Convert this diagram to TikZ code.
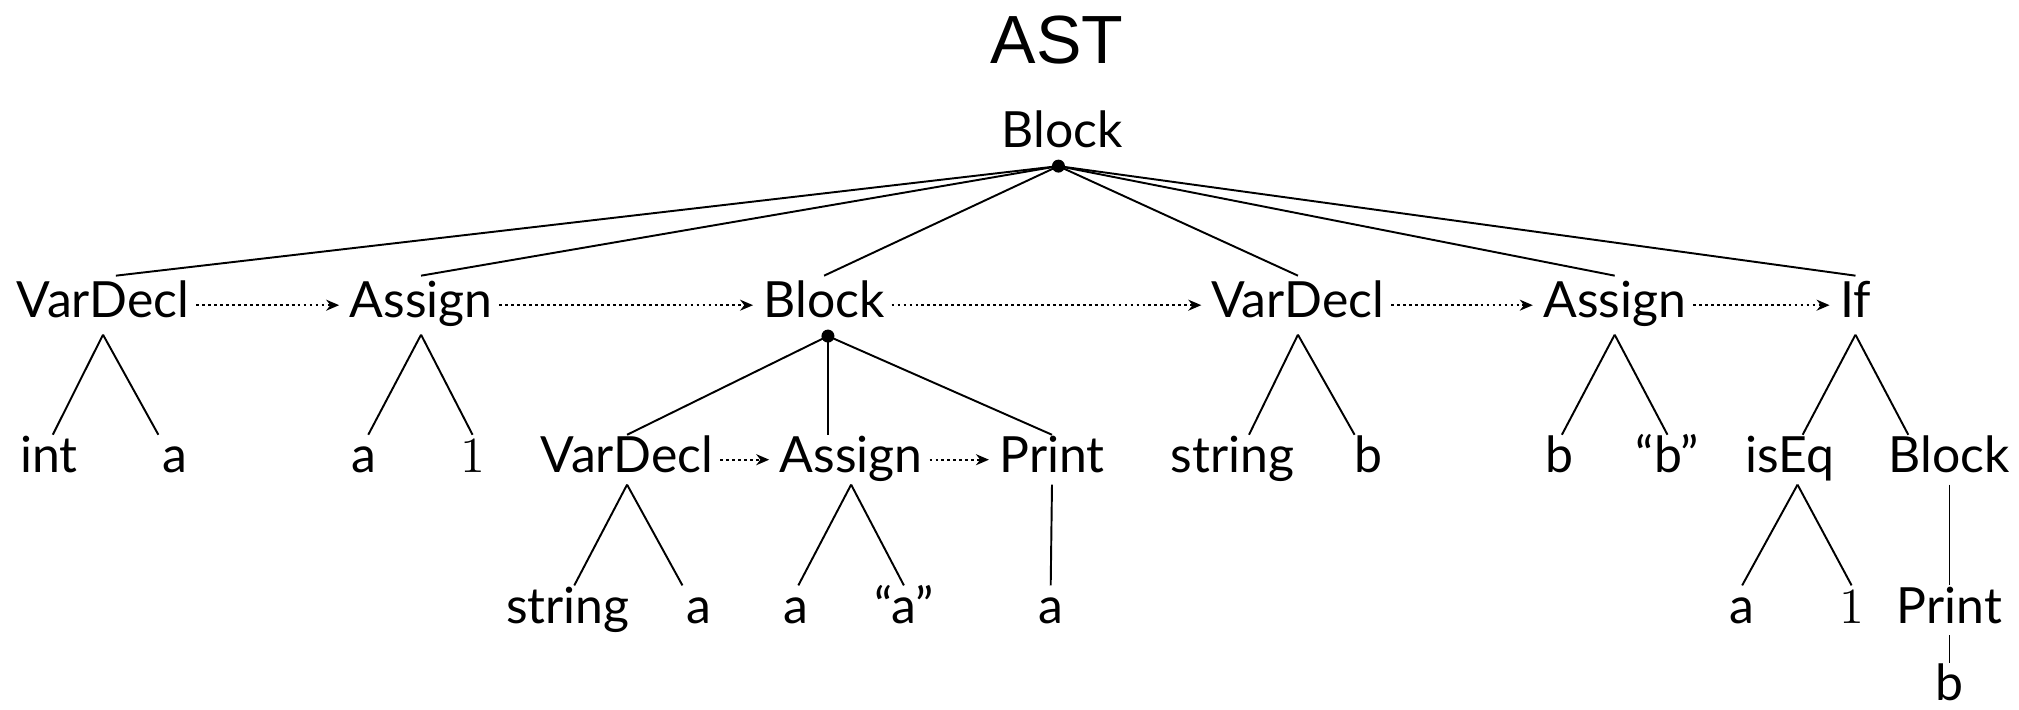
\documentclass[tikz,border=0pt]{standalone}
\usepackage{fontspec}
\setmainfont{Lato}
\newfontfamily\titlefont{Liberation Sans}
\usetikzlibrary{arrows.meta}

\begin{document}
\begin{tikzpicture}[
  x=0.012876cm, y=-0.012876cm,
  >={Stealth[length=1.3mm, width=1.1mm]},
  every node/.style={font=\fontsize{14.2}{16}\selectfont},
  ast/.style={inner sep=0pt, outer xsep=2pt, outer ysep=3.5pt, text height=0.72em, text depth=0pt},
  stmt/.style={ast, outer ysep=4.8pt},
  joint/.style={circle, fill=black, inner sep=0pt, minimum size=1.3mm},
  treeedge/.style={line width=0.55pt},
  nextedge/.style={->, line width=0.5pt, dash pattern=on 0.8pt off 0.9pt, shorten >=1pt},
]
\useasboundingbox (0,0) rectangle (1568,551);

% ---- title ----
\node[font=\titlefont\fontsize{19.4}{22}\selectfont] (title) at (821,31) {AST};

% ---- depth 0: root ----
\node[ast] (root) at (825,105) {Block};
\node[joint] (d0) at (822,129) {};

% ---- depth 1 ----
\node[stmt] (vd1)  at (80,237)   {VarDecl};
\node[stmt] (as1)  at (327,237)  {Assign};
\node[stmt] (blk1) at (640,237)  {Block};
\node[stmt] (vd2)  at (1008,237) {VarDecl};
\node[stmt] (as2)  at (1254,237) {Assign};
\node[stmt] (if1)  at (1441,237) {If};
\node[joint] (d1) at (643,261) {};

% ---- depth 2 ----
\node[ast] (l1)   at (38,357)   {int};
\node[ast] (l2)   at (136,357)  {a};
\node[ast] (l3)   at (283,357)  {a};
\node[ast] (l4)   at (367,357)  {$1$};
\node[ast] (vd3)  at (487,357)  {VarDecl};
\node[ast] (as3)  at (661,357)  {Assign};
\node[ast] (pr1)  at (817,357)  {Print};
\node[ast] (l5)   at (957,357)  {string};
\node[ast] (l6)   at (1063,357) {b};
\node[ast] (l7)   at (1211,357) {b};
\node[ast] (l8)   at (1295,357) {“b”};
\node[ast] (eq1)  at (1390,357) {isEq};
\node[ast] (blk2) at (1514,357) {Block};

% ---- depth 3 ----
\node[ast] (l9)  at (441,474)  {string};
\node[ast] (l10) at (543,474)  {a};
\node[ast] (l11) at (618,474)  {a};
\node[ast] (l12) at (702,474)  {“a”};
\node[ast] (l13) at (816,474)  {a};
\node[ast] (l14) at (1353,474) {a};
\node[ast] (l15) at (1438,474) {$1$};
\node[ast] (pr2) at (1514,474) {Print};

% ---- depth 4 ----
\node[ast] (l16) at (1514,534) {b};

% ---- tree edges ----
\draw[treeedge] (d0.center) -- ([shift={(10,0)}]vd1.north);
\foreach \c in {as1,blk1,vd2,as2,if1}
  \draw[treeedge] (d0.center) -- (\c.north);
\draw[treeedge] (vd1.south) -- ([shift={(3,0)}]l1.north);
\draw[treeedge] (vd1.south) -- ([shift={(-13,0)}]l2.north);
\draw[treeedge] (as1.south) -- ([shift={(3,0)}]l3.north);
\draw[treeedge] (as1.south) -- (l4.north);
\draw[treeedge] (d1.center) -- (vd3.north);
\draw[treeedge] (d1.center) -- (d1 |- as3.north);
\draw[treeedge] (d1.center) -- (pr1.north);
\draw[treeedge] (vd2.south) -- ([shift={(13,0)}]l5.north);
\draw[treeedge] (vd2.south) -- ([shift={(-11,0)}]l6.north);
\draw[treeedge] (as2.south) -- ([shift={(2,0)}]l7.north);
\draw[treeedge] (as2.south) -- (l8.north);
\draw[treeedge] (if1.south) -- ([shift={(10,0)}]eq1.north);
\draw[treeedge] (if1.south) -- ([shift={(-32,0)}]blk2.north);
\draw[treeedge] (vd3.south) -- ([shift={(5,0)}]l9.north);
\draw[treeedge] (vd3.south) -- ([shift={(-13,0)}]l10.north);
\draw[treeedge] (as3.south) -- ([shift={(2,0)}]l11.north);
\draw[treeedge] (as3.south) -- (l12.north);
\draw[treeedge] (pr1.south) -- (l13.north);
\draw[treeedge] ([shift={(6,0)}]eq1.south) -- (l14.north);
\draw[treeedge] ([shift={(6,0)}]eq1.south) -- (l15.north);
\draw[treeedge] (blk2.south) -- (pr2.north);
\draw[treeedge] (pr2.south) -- (l16.north);

% ---- sibling order ----
\draw[nextedge] (vd1.east) -- (as1.west);
\draw[nextedge] (as1.east) -- (blk1.west);
\draw[nextedge] (blk1.east) -- (vd2.west);
\draw[nextedge] (vd2.east) -- (as2.west);
\draw[nextedge] (as2.east) -- (if1.west);
\draw[nextedge] (vd3.east) -- (as3.west);
\draw[nextedge] (as3.east) -- (pr1.west);

\end{tikzpicture}
\end{document}
